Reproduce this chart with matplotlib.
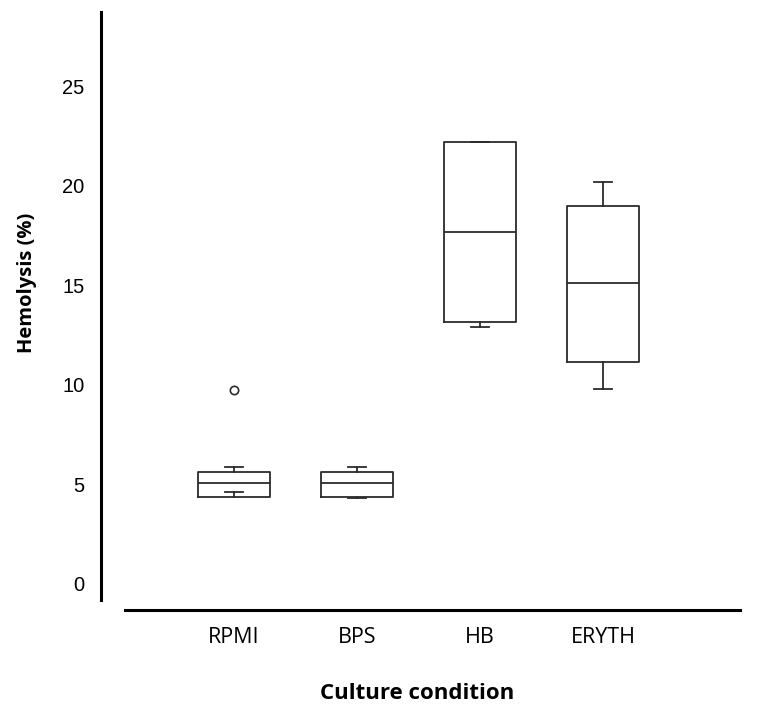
import matplotlib.pyplot as plt

# culture conditions and box statistics
conditions = ['RPMI', 'BPS', 'HB', 'ERYTH']
q1 = [4.37, 4.37, 13.17, 11.15]
med = [5.08, 5.08, 17.7, 15.1]
q3 = [5.63, 5.63, 22.2, 19.0]
whislo = [4.62, 4.3, 12.9, 9.8]
whishi = [5.88, 5.88, 22.2, 20.2]
fliers = [[9.75], [], [], []]
yticks = [0, 5, 10, 15, 20, 25]

stats = []
for i, name in enumerate(conditions):
    stats.append({'label': name, 'q1': q1[i], 'med': med[i], 'q3': q3[i],
                  'whislo': whislo[i], 'whishi': whishi[i], 'fliers': fliers[i]})

fig = plt.figure(figsize=(7.64, 7.04), dpi=100)
# axes box in pixels: x 101..740, y 12..610
ax = fig.add_axes([101 / 764, 1 - 610 / 704, (740 - 101) / 764, (610 - 12) / 704])

lc = '#2b2b2b'
lw = 1.3
pos = [1, 2, 3, 4]
ax.bxp(stats, positions=pos, widths=0.58, showfliers=True,
       boxprops=dict(color=lc, linewidth=lw),
       medianprops=dict(color=lc, linewidth=lw),
       whiskerprops=dict(color=lc, linewidth=lw),
       capprops=dict(color=lc, linewidth=lw),
       capwidths=0.14,
       flierprops=dict(marker='o', markersize=6, markerfacecolor='none',
                       markeredgecolor=lc, markeredgewidth=1.2))

ax.set_xlim(-0.081, 5.114)
ax.set_ylim(-1.31, 28.74)

for s in ['top', 'right']:
    ax.spines[s].set_visible(False)
ax.spines['left'].set_linewidth(2.2)
ax.spines['bottom'].set_linewidth(2.2)
ax.spines['left'].set_bounds(-0.8, 28.74)
ax.spines['bottom'].set_bounds(0.114, 5.114)

ax.set_yticks(yticks)
ax.set_yticklabels([str(t) for t in yticks], fontfamily='Liberation Sans', fontsize=14.5)
ax.tick_params(axis='y', length=0, pad=12)
ax.set_xticks(pos)
ax.set_xticklabels(conditions, fontfamily='Open Sans', fontsize=15.5)
ax.tick_params(axis='x', length=0, pad=12)

ax.set_ylabel('Hemolysis (%)', fontfamily='Open Sans', fontweight='bold', fontsize=14.5)
ax.yaxis.set_label_coords(-0.1, (610 - 283) / 598)
ax.set_xlabel('Culture condition', fontfamily='Open Sans', fontweight='bold', fontsize=16)
ax.xaxis.set_label_coords((417 - 101) / 639, -(683 - 610) / 598)

fig.savefig('out.png', dpi=100)
